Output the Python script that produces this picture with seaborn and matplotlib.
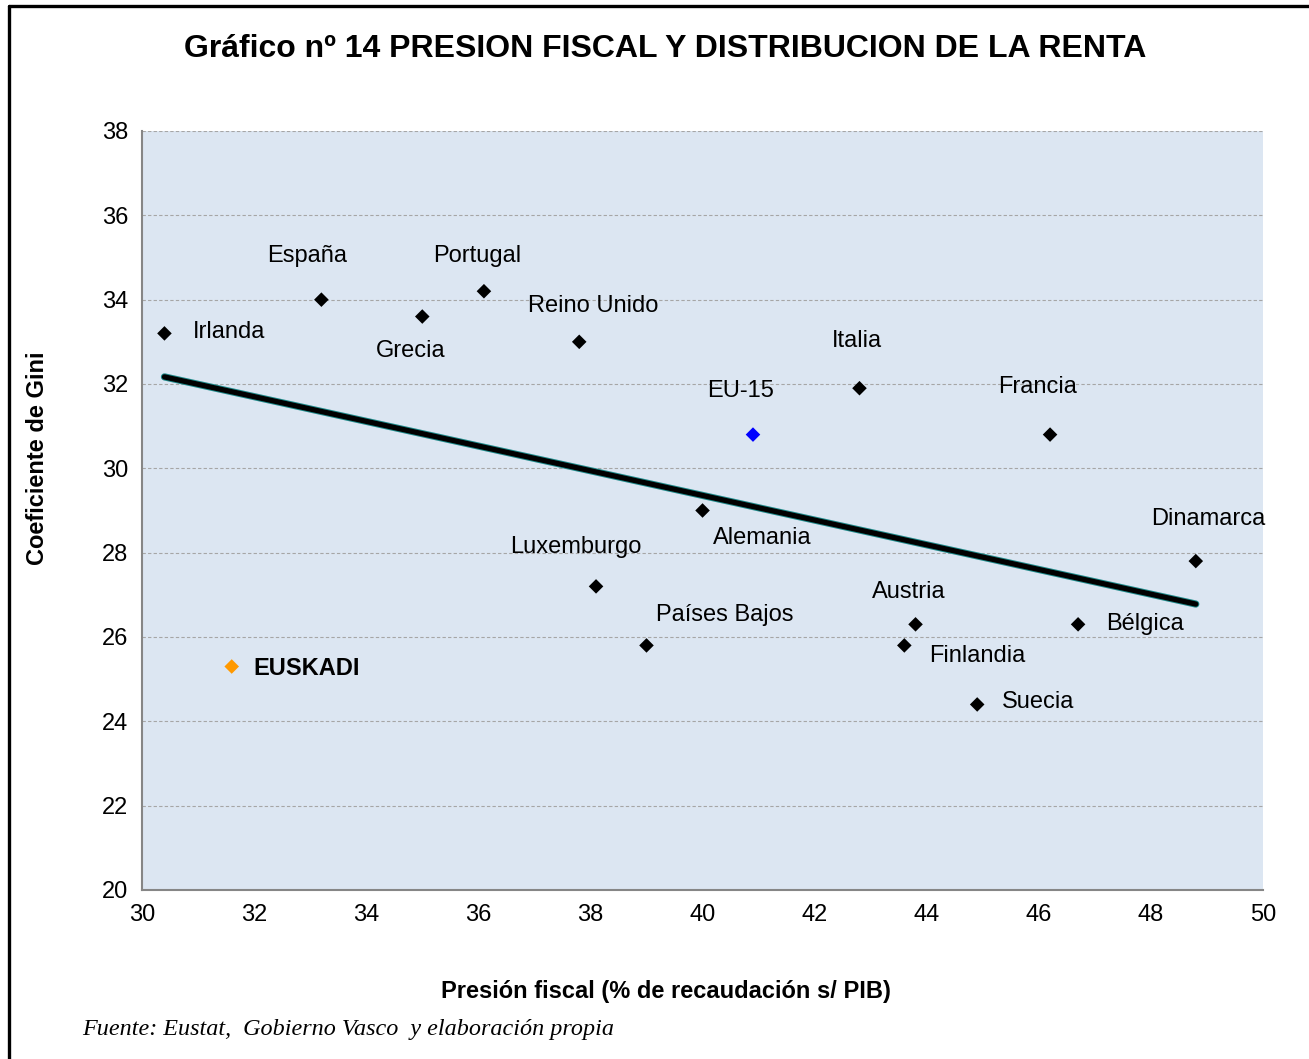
import numpy as np
import matplotlib
matplotlib.use("Agg")
import matplotlib.pyplot as plt
import matplotlib.patheffects as pe
from matplotlib.lines import Line2D
import pandas as pd
import seaborn as sns

paises = ['Irlanda', 'España', 'Grecia', 'Portugal', 'Reino Unido', 'Italia', 'EU-15',
          'Francia', 'Alemania', 'Dinamarca', 'Luxemburgo', 'Países Bajos', 'Austria',
          'Finlandia', 'Bélgica', 'Suecia', 'EUSKADI']
presion = [30.4, 33.2, 35.0, 36.1, 37.8, 42.8, 40.9, 46.2, 40.0, 48.8, 38.1, 39.0, 43.8,
           43.6, 46.7, 44.9, 31.6]
gini = [33.2, 34.0, 33.6, 34.2, 33.0, 31.9, 30.8, 30.8, 29.0, 27.8, 27.2, 25.8, 26.3,
        25.8, 26.3, 24.4, 25.3]
grupo = ['pais'] * 6 + ['eu'] + ['pais'] * 9 + ['euskadi']

# label offsets in pixels (left edge of text, relative to marker)
offsets = {'Irlanda': (28, 1), 'España': (-54, 44), 'Grecia': (-46, -34),
           'Portugal': (-51, 35), 'Reino Unido': (-51, 36), 'Italia': (-28, 47),
           'EU-15': (-46, 44), 'Francia': (-52, 48), 'Alemania': (10, -28),
           'Dinamarca': (-45, 42), 'Luxemburgo': (-86, 39), 'Países Bajos': (10, 30),
           'Austria': (-44, 32), 'Finlandia': (25, -11), 'Bélgica': (28, 0),
           'Suecia': (25, 2), 'EUSKADI': (22, -2)}

df = pd.DataFrame({'pais': paises, 'presion': presion, 'gini': gini, 'grupo': grupo})

sns.set_style("white")
plt.rcParams['font.family'] = ['Liberation Sans', 'DejaVu Sans']
plt.rcParams['text.color'] = 'black'
plt.rcParams['axes.labelcolor'] = 'black'
plt.rcParams['xtick.color'] = 'black'
plt.rcParams['ytick.color'] = 'black'

fig = plt.figure(figsize=(13.09, 10.59), dpi=100)
ax = fig.add_axes([0.1085, 0.1596, 0.8564, 0.7167])
ax.set_facecolor('#DCE6F2')

sns.regplot(data=df, x='presion', y='gini', ax=ax, scatter=False, ci=None, truncate=True,
            line_kws=dict(color='black', lw=3.8, solid_capstyle='round',
                          path_effects=[pe.Stroke(linewidth=5.2, foreground='#1F8A8A'),
                                        pe.Normal()]))

sns.scatterplot(data=df, x='presion', y='gini', hue='grupo', ax=ax, marker='D', s=55,
                palette={'pais': 'black', 'eu': '#0000FF', 'euskadi': '#FF9900'},
                edgecolor='none', legend=False, zorder=5)

for p, x, y in zip(paises, presion, gini):
    dx, dy = offsets[p]
    ax.annotate(p, (x, y), xytext=(dx, dy), textcoords='offset pixels',
                ha='left', va='center', fontsize=17, color='black',
                fontweight='bold' if p == 'EUSKADI' else 'normal',
                annotation_clip=False)

ax.set_xlim(30, 50)
ax.set_ylim(20, 38)
ax.set_xticks(np.arange(30, 51, 2))
ax.set_yticks(np.arange(20, 39, 2))
ax.yaxis.grid(True, color='#A6A6A6', linestyle=(0, (3, 2)), lw=0.8)
ax.set_axisbelow(True)
for s in ['top', 'right']:
    ax.spines[s].set_visible(False)
for s in ['left', 'bottom']:
    ax.spines[s].set_color('#868686')
    ax.spines[s].set_linewidth(1.5)
ax.tick_params(axis='both', direction='out', length=6, width=1.5, color='#868686',
               labelcolor='black', labelsize=17, pad=4)
ax.set_xlabel('Presión fiscal (% de recaudación s/ PIB)', fontsize=17, fontweight='bold',
              va='center')
ax.set_ylabel('Coeficiente de Gini', fontsize=17, fontweight='bold', va='center')
ax.xaxis.set_label_coords(0.467, -0.134)
ax.yaxis.set_label_coords(-0.0928, 0.569)

fig.text(0.508, 0.954, 'Gráfico nº 14 PRESION FISCAL Y DISTRIBUCION DE LA RENTA',
         ha='center', va='center', fontsize=23, fontweight='bold')
fig.text(0.063, 0.028, 'Fuente: Eustat,  Gobierno Vasco  y elaboración propia',
         ha='left', va='center', fontsize=17.4, style='italic',
         family=['Liberation Serif', 'DejaVu Serif'])

# outer frame (top and left edges of the screenshot)
fig.add_artist(Line2D([0.007, 1.0], [0.9945, 0.9945], color='black', lw=2.4,
                      transform=fig.transFigure))
fig.add_artist(Line2D([0.007, 0.007], [0.0, 0.9945], color='black', lw=2.4,
                      transform=fig.transFigure))

fig.savefig('out.png', dpi=100)
